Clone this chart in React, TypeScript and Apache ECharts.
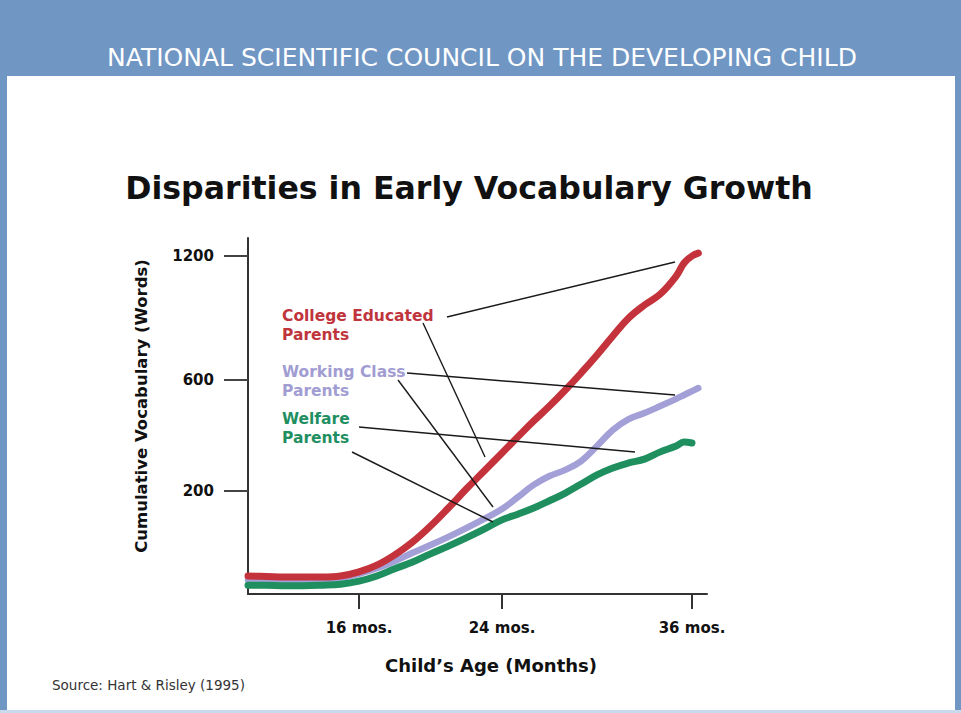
import React, { useEffect, useRef } from "react";
import * as echarts from "echarts";

// ---- data ----
const ages = [10, 11, 12, 13, 14, 15, 16, 17, 18, 19, 20, 21, 22, 23, 24, 25, 26, 27, 28, 29, 30, 31, 32, 33, 34, 35, 35.5, 36, 36.4];
const collegeWords = [35, 34, 33, 33, 33, 35, 43, 56, 76, 101, 132, 167, 207, 272, 337, 395, 452, 506, 564, 634, 721, 813, 900, 963, 1016, 1103, 1166, 1200, 1214];
const workingWords = [27, 26, 25, 25, 27, 31, 39, 50, 64, 80, 95, 111, 128, 146, 165, 188, 222, 254, 276, 308, 362, 420, 459, 481, 506, 532, 546, 560, 571];
const welfareWords = [17, 17, 16, 16, 17, 19, 25, 35, 49, 62, 78, 93, 109, 126, 144, 155, 167, 181, 196, 225, 258, 283, 301, 315, 341, 362, 377, 373, null];

// axis ticks (the drawing's axes are not evenly spaced: piecewise scale)
const xTickMonths = [10, 16, 24, 36];
const xTickSpacing = [0, 111, 254, 444];
const xLabelMonths = [16, 24, 36];
const yTickWords = [0, 200, 600, 1200];
const yTickSpacing = [0, 103, 214, 338];
const yLabelWords = [200, 600, 1200];

const seriesNames = ["College Educated Parents", "Working Class Parents", "Welfare Parents"];

function warp(v: number, from: number[], to: number[]) {
  let i = 1;
  while (i < from.length - 1 && v > from[i]) i++;
  const t = (v - from[i - 1]) / (from[i] - from[i - 1]);
  return to[i - 1] + t * (to[i] - to[i - 1]);
}
const wx = (m: number) => warp(m, xTickMonths, xTickSpacing);
const wy = (w: number) => warp(w, yTickWords, yTickSpacing);

const FONT = "'DejaVu Sans', Verdana, sans-serif";

export default function App() {
  const ref = useRef<HTMLDivElement>(null);
  useEffect(() => {
    if (!ref.current) return;
    const chart = echarts.init(ref.current, null, { renderer: "svg" });
    const mk = (vals: (number | null)[]) =>
      ages.map((m, i) => (vals[i] == null ? null : [wx(m), wy(vals[i] as number)])).filter((d) => d !== null);
    const nearest = (v: number, list: number[], f: (n: number) => number) => {
      let best = list[0];
      for (const c of list) if (Math.abs(f(c) - v) < Math.abs(f(best) - v)) best = c;
      return best;
    };
    const leaderStyle = { stroke: "#1a1a1a", lineWidth: 1.4 };
    const leaders = [
      [447, 317, 675, 262],
      [423, 323, 485, 457],
      [407, 373, 675, 395],
      [398, 380, 493, 507],
      [359, 427, 635, 452],
      [352, 452, 493, 522],
    ];
    const labelLines = [
      { t: "College Educated", y: 316, c: "#c0343c" },
      { t: "Parents", y: 335, c: "#c0343c" },
      { t: "Working Class", y: 372, c: "#a19dd2" },
      { t: "Parents", y: 391, c: "#a19dd2" },
      { t: "Welfare", y: 419, c: "#1f8f62" },
      { t: "Parents", y: 438, c: "#1f8f62" },
    ];
    const lineCommon = { type: "line", smooth: 0.4, showSymbol: false };
    chart.setOption({
      animation: false,
      backgroundColor: "#ffffff",
      grid: { left: 248, top: 238, width: 459, height: 356 },
      xAxis: {
        type: "value",
        min: 0,
        max: 459,
        name: "Child’s Age (Months)",
        nameLocation: "middle",
        nameGap: 62,
        nameTextStyle: { fontFamily: FONT, fontWeight: "bold", fontSize: 18, color: "#111", padding: [0, 0, 0, 27] },
        axisLine: { show: true, lineStyle: { color: "#333", width: 2 } },
        axisTick: { show: true, length: 15, customValues: xLabelMonths.map(wx), lineStyle: { color: "#333", width: 2 } },
        axisLabel: {
          show: true,
          customValues: xLabelMonths.map(wx),
          margin: 26,
          fontFamily: FONT,
          fontWeight: "bold",
          fontSize: 15,
          color: "#111",
          formatter: (v: number) => `${nearest(v, xLabelMonths, wx)} mos.`,
        },
        splitLine: { show: false },
      },
      yAxis: {
        type: "value",
        min: 0,
        max: 356,
        name: "Cumulative Vocabulary (Words)",
        nameLocation: "middle",
        nameRotate: 90,
        nameGap: 98,
        nameTextStyle: { fontFamily: FONT, fontWeight: "bold", fontSize: 16.5, color: "#111", padding: [0, 0, 0, 20] },
        axisLine: { show: true, lineStyle: { color: "#333", width: 2 } },
        axisTick: { show: true, length: 24, customValues: yLabelWords.map(wy), lineStyle: { color: "#444", width: 2 } },
        axisLabel: {
          show: true,
          customValues: yLabelWords.map(wy),
          margin: 34,
          fontFamily: FONT,
          fontWeight: "bold",
          fontSize: 15,
          color: "#111",
          formatter: (v: number) => `${nearest(v, yLabelWords, wy)}`,
        },
        splitLine: { show: false },
      },
      series: [
        {
          ...lineCommon,
          name: seriesNames[1],
          data: mk(workingWords),
          lineStyle: { color: "#a3a0d8", width: 6.5, cap: "round" },
          z: 2,
        },
        {
          ...lineCommon,
          name: seriesNames[2],
          data: mk(welfareWords),
          lineStyle: { color: "#1f8f5f", width: 7, cap: "round" },
          z: 3,
        },
        {
          ...lineCommon,
          name: seriesNames[0],
          data: mk(collegeWords),
          lineStyle: { color: "#c4333b", width: 7, cap: "round" },
          z: 4,
        },
      ],
      graphic: [
        { type: "rect", shape: { x: 0, y: 0, width: 961, height: 76 }, style: { fill: "#7096c4" }, z: 0 },
        { type: "rect", shape: { x: 0, y: 0, width: 7, height: 713 }, style: { fill: "#7096c4" }, z: 0 },
        { type: "rect", shape: { x: 955, y: 0, width: 6, height: 713 }, style: { fill: "#7096c4" }, z: 0 },
        { type: "rect", shape: { x: 0, y: 710, width: 961, height: 3 }, style: { fill: "#c9d9ee" }, z: 0 },
        {
          type: "text",
          x: 482,
          y: 57,
          style: {
            text: "NATIONAL SCIENTIFIC COUNCIL ON THE DEVELOPING CHILD",
            fill: "#ffffff",
            font: `normal 25px ${FONT}`,
            textAlign: "center",
            textVerticalAlign: "middle",
            align: "center",
            verticalAlign: "middle",
          },
          z: 10,
        },
        {
          type: "text",
          x: 469,
          y: 188,
          style: {
            text: "Disparities in Early Vocabulary Growth",
            fill: "#111111",
            font: `bold 31.6px ${FONT}`,
            textAlign: "center",
            textVerticalAlign: "middle",
            align: "center",
            verticalAlign: "middle",
          },
          z: 10,
        },
        {
          type: "text",
          x: 52,
          y: 685,
          style: {
            text: "Source: Hart & Risley (1995)",
            fill: "#333333",
            font: `normal 13.5px ${FONT}`,
            textAlign: "left",
            textVerticalAlign: "middle",
            align: "left",
            verticalAlign: "middle",
          },
          z: 10,
        },
        ...labelLines.map((l) => ({
          type: "text",
          x: 282,
          y: l.y,
          style: {
            text: l.t,
            fill: l.c,
            font: `bold 15.5px ${FONT}`,
            textAlign: "left",
            textVerticalAlign: "middle",
            align: "left",
            verticalAlign: "middle",
          },
          z: 10,
        })),
        ...leaders.map((s) => ({
          type: "line",
          shape: { x1: s[0], y1: s[1], x2: s[2], y2: s[3] },
          style: leaderStyle,
          z: 100,
        })),
      ],
    });
    return () => chart.dispose();
  }, []);
  return <div ref={ref} style={{ position: "fixed", left: 0, top: 0, width: 961, height: 713 }} />;
}
